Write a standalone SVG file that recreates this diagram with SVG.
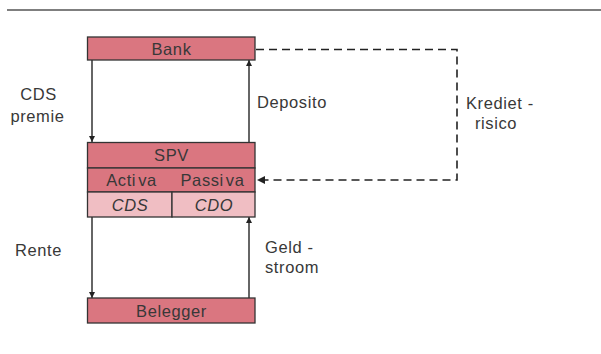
<svg xmlns="http://www.w3.org/2000/svg" width="601" height="354" viewBox="0 0 601 354">
  <style>
    .box { fill: #da7680; stroke: #333; stroke-width: 1.3; }
    .light { fill: #f0bec3; stroke: #333; stroke-width: 1.3; }
    .lbl { font-family: "Liberation Sans", Arial, sans-serif; font-size: 16.5px; letter-spacing: 0.6px; fill: #383838; }
    .it { font-style: italic; }
    .flow { fill: none; stroke: #333; stroke-width: 1.5; }
    .dash { fill: none; stroke: #222; stroke-width: 1.6; stroke-dasharray: 8 5; }
  </style>
  <defs>
    <marker id="arrow" viewBox="0 0 10 10" refX="10" refY="5" markerWidth="6" markerHeight="6" markerUnits="userSpaceOnUse" orient="auto">
      <path d="M0,0 L10,5 L0,10 z" fill="#222"/>
    </marker>
    <marker id="arrowWide" viewBox="0 0 10 10" refX="10" refY="5" markerWidth="9" markerHeight="8" markerUnits="userSpaceOnUse" orient="auto">
      <path d="M0,0 L10,5 L0,10 z" fill="#222"/>
    </marker>
  </defs>

  <!-- header rule -->
  <line x1="7" y1="10" x2="601" y2="10" stroke="#555" stroke-width="1.5"/>

  <g id="connectors">
    <line class="flow" x1="92" y1="60" x2="92" y2="142" marker-end="url(#arrow)"/>
    <line class="flow" x1="249" y1="142" x2="249" y2="60" marker-end="url(#arrow)"/>
    <line class="flow" x1="92" y1="217" x2="92" y2="298" marker-end="url(#arrow)"/>
    <line class="flow" x1="249" y1="298" x2="249" y2="217" marker-end="url(#arrow)"/>
    <path class="dash" d="M256,49.5 H457 V180 H257" marker-end="url(#arrowWide)"/>
  </g>

  <g id="bank">
    <rect class="box" x="87.5" y="37" width="167.5" height="23"/>
    <text class="lbl" x="171.5" y="54.5" text-anchor="middle">Bank</text>
  </g>

  <g id="spv">
    <rect class="box" x="87.5" y="142.5" width="167.5" height="25.5"/>
    <text class="lbl" x="171.5" y="161" text-anchor="middle">SPV</text>
    <rect class="box" x="87.5" y="168" width="167.5" height="24"/>
    <text class="lbl" x="131.5" y="186" text-anchor="middle">Acti<tspan dx="2">va</tspan></text>
    <text class="lbl" x="212.5" y="186" text-anchor="middle">Passi<tspan dx="2">va</tspan></text>
    <rect class="light" x="87.5" y="192" width="84.5" height="25"/>
    <rect class="light" x="172" y="192" width="83" height="25"/>
    <text class="lbl it" x="130" y="210.5" text-anchor="middle">CDS</text>
    <text class="lbl it" x="214" y="210.5" text-anchor="middle">CDO</text>
  </g>

  <g id="belegger">
    <rect class="box" x="87.5" y="298" width="167.5" height="25"/>
    <text class="lbl" x="171.5" y="316.5" text-anchor="middle">Belegger</text>
  </g>

  <!-- flow labels -->
  <g id="labels">
    <text class="lbl" x="38.5" y="100" text-anchor="middle">CDS</text>
    <text class="lbl" x="37.5" y="122" text-anchor="middle">premie</text>
    <text class="lbl" x="257" y="108">Deposito</text>
    <text class="lbl" x="466" y="109">Krediet -</text>
    <text class="lbl" x="475" y="129">risico</text>
    <text class="lbl" x="15" y="256">Rente</text>
    <text class="lbl" x="265" y="253">Geld -</text>
    <text class="lbl" x="265" y="273">stroom</text>
  </g>
</svg>
